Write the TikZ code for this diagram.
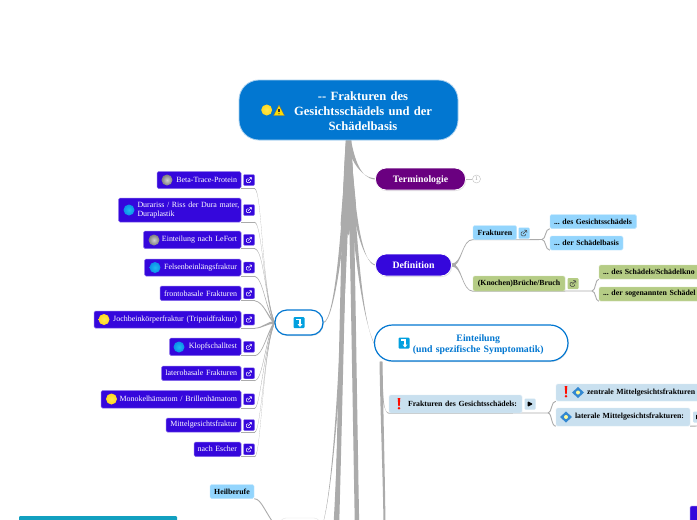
\documentclass[tikz,border=0pt]{standalone}
\usepackage{fontspec}
\setmainfont{Liberation Serif}
\usetikzlibrary{calc,shadows,shapes.geometric,backgrounds}
\definecolor{vio}{HTML}{3507DC}
\definecolor{rootb}{HTML}{0277D1}
\definecolor{lblue}{HTML}{93D5FD}
\definecolor{olive}{HTML}{B5CC85}
\definecolor{pale}{HTML}{C9E0EF}
\definecolor{purp}{HTML}{6A0080}
\definecolor{teal2}{HTML}{12A0C0}
\definecolor{conn}{HTML}{ABABAB}
\definecolor{ballY}{HTML}{FFD820}
\definecolor{ballYi}{HTML}{FFE850}
\definecolor{ballB}{HTML}{0A90E8}
\definecolor{ballBi}{HTML}{20B8F0}
\definecolor{ballG}{HTML}{7E7E7E}
\definecolor{ballGi}{HTML}{D0D0D0}
\frenchspacing
\newcommand\nd[7][]{%
  \pgfmathsetmacro\ndw{#5-#3}\pgfmathsetmacro\ndh{#6-#4}%
  \pgfmathsetmacro\ndt{#5-#3-8}%
  \node[inner xsep=4pt,inner ysep=0pt,minimum width=\ndw pt,minimum height=\ndh pt,text width=\ndt pt,#1] (#2) at ({(#3+#5)/2},{(#4+#6)/2}) {#7};}
% tapered connector: a, a offset, c1, c2, b, b offset
\newcommand\taper[8]{%
  \fill[conn] ($(#1)+(#2,#3)$) .. controls ($(#4)+(#2,#3)$) and ($(#5)+(#7,#8)$) .. ($(#6)+(#7,#8)$)
   -- ($(#6)-(#7,#8)$) .. controls ($(#5)-(#7,#8)$) and ($(#4)-(#2,#3)$) .. ($(#1)-(#2,#3)$) -- cycle;}
\newcommand\lconn[3]{%
  \coordinate (tmp) at (#1.south east -| #1-l.east);
  \draw[thinconn] (#1.south east) -- (tmp);
  \taper{tmp}{0}{0.4}{#2}{#3}{grp.west}{0}{1.3}}
\newcommand\ballic[3]{\shade[inner color=ball#3i,outer color=ball#3] (#1,#2) circle (5.5pt);}
\newcommand\warnic[2]{%
  \fill[yellow!80!orange,draw=black!60,line width=.4pt,line join=round] (#1-5.5,#2+5) -- (#1,#2-5.5) -- (#1+5.5,#2+5) -- cycle;
  \fill[black!80] (#1-.7,#2-2) rectangle (#1+.7,#2+1.8);\fill[black!80] (#1,#2+3.2) circle (.7pt);}
\newcommand\exclic[2]{%
  \fill[red!90!orange] (#1-1.3,#2-6) -- (#1+1.3,#2-6) -- (#1+.7,#2+2) -- (#1-.7,#2+2) -- cycle;
  \fill[red!90!orange] (#1,#2+4.2) circle (1.3pt);}
\newcommand\diaic[2]{%
  \fill[cyan!60!blue!85!white] (#1-6,#2) -- (#1,#2-5.5) -- (#1+6,#2) -- (#1,#2+5.5) -- cycle;
  \fill[white!60!yellow] (#1,#2) circle (2pt);}
\newcommand\arrowic[2]{%
  \fill[rootb!70!cyan,rounded corners=1pt] (#1-5.5,#2-5.5) rectangle (#1+5.5,#2+5.5);
  \draw[white,line width=1.3pt] (#1-3,#2-3) -- (#1+1,#2-3) -- (#1+1,#2+2.5);
  \fill[white] (#1-1.5,#2+1.5) -- (#1+3.5,#2+1.5) -- (#1+1,#2+4.5) -- cycle;}
\tikzset{
  x=1pt,y=-1pt,
  thinconn/.style={conn,line width=.9pt},
  shad/.style={drop shadow={opacity=.25,shadow xshift=.6pt,shadow yshift=-1pt}},
  rootnode/.style={fill=rootb,draw=rootb!35!white,line width=.8pt,rounded corners=20pt,text=white,align=center,
    font=\fontsize{12.6}{15}\selectfont\bfseries},
  mainnode/.style={draw=white,line width=.8pt,rounded corners=10.5pt,text=white,align=center,shad,
    font=\fontsize{9.8}{11}\selectfont\bfseries},
  outlinenode/.style={fill=white,draw=rootb,line width=1.2pt,shad,text=rootb,align=center,
    font=\fontsize{9.8}{11.5}\selectfont\bfseries},
  vionode/.style={fill=vio,draw=vio!60!white,line width=.5pt,rounded corners=1.5pt,text=white,align=right,
    font=\fontsize{7.95}{9.5}\selectfont},
  lightnode/.style={fill=#1,draw=#1!60!white,line width=.4pt,rounded corners=1.5pt,text=black,align=left,
    font=\fontsize{7.8}{9.5}\selectfont\bfseries},
  linkic/.style={rectangle,rounded corners=1pt,minimum size=11pt,inner sep=0pt,fill=#1,draw=#1!55!white,line width=.4pt,
    path picture={
      \draw[white,line width=.55pt] ($(path picture bounding box.center)+(-2.6,-1.2)$) rectangle ($(path picture bounding box.center)+(1.6,2.6)$);
      \fill[#1] ($(path picture bounding box.center)+(-.5,-3.5)$) rectangle ($(path picture bounding box.center)+(3.5,.8)$);
      \draw[white,line width=.55pt] ($(path picture bounding box.center)+(-.8,.8)$) -- ($(path picture bounding box.center)+(2.6,-2.6)$);
      \draw[white,line width=.55pt] ($(path picture bounding box.center)+(.4,-2.6)$) -- ($(path picture bounding box.center)+(2.6,-2.6)$) -- ($(path picture bounding box.center)+(2.6,-.4)$);
    }},
  linkdk/.style={rectangle,rounded corners=1pt,minimum size=11pt,inner sep=0pt,fill=#1,
    path picture={
      \draw[black!75,line width=.5pt] ($(path picture bounding box.center)+(-2.8,-1.2)$) rectangle ($(path picture bounding box.center)+(1.6,2.8)$);
      \fill[#1] ($(path picture bounding box.center)+(-.5,-3.5)$) rectangle ($(path picture bounding box.center)+(3.5,.8)$);
      \draw[black!75,line width=.5pt] ($(path picture bounding box.center)+(-.8,.8)$) -- ($(path picture bounding box.center)+(2.8,-2.8)$);
      \draw[black!75,line width=.5pt] ($(path picture bounding box.center)+(.2,-2.8)$) -- ($(path picture bounding box.center)+(2.8,-2.8)$) -- ($(path picture bounding box.center)+(2.8,-.2)$);
    }},
  playic/.style={rectangle,rounded corners=1pt,minimum size=11pt,inner sep=0pt,fill=pale,
    path picture={\fill[black] ($(path picture bounding box.center)+(-2.5,-2.8)$) -- ($(path picture bounding box.center)+(3,0)$) -- ($(path picture bounding box.center)+(-2.5,2.8)$) -- cycle;}},
}
\begin{document}
\begin{tikzpicture}
\useasboundingbox (0,0) rectangle (697,520);
\begin{scope}
\clip (0,0) rectangle (697,520);

% ---- root
\nd[rootnode]{root}{239}{80}{458}{140}{\rule{0pt}{11pt}\hspace*{29pt}-{}- Frakturen des\\\hspace*{29pt}Gesichtsschädels und der\\\hspace*{29pt}Schädelbasis}
\ballic{266.7}{110}{Y}
\warnic{279}{110.5}

% ---- main nodes
\nd[mainnode,fill=purp]{term}{375.5}{168}{465.5}{190}{\rule{0pt}{9pt}Terminologie}
\nd[mainnode,fill=vio]{defin}{375.5}{254}{451.5}{276}{Definition}
\node[circle,draw=black!25,line width=.4pt,inner sep=0pt,minimum size=8pt,text=black!40,font=\fontsize{5.5}{6}\selectfont] (termn) at (476.5,179) {1};

\nd[outlinenode,rounded corners=18pt]{eint}{374.5}{325}{568}{361}{\rule{0pt}{10pt}\hspace*{14pt}Einteilung\\\hspace*{14pt}(und spezifische Symptomatik)}
\arrowic{404}{343}
\nd[outlinenode,rounded corners=12pt]{grp}{275}{310}{323}{335}{}
\arrowic{299}{322.5}
\nd[draw=black!10,line width=.4pt,fill=white,rounded corners=6pt]{bnode}{280}{518}{320}{545}{}
\nd[fill=teal2,rounded corners=1pt]{tealn}{19}{516}{177}{545}{}
\nd[vionode]{rvio}{690}{506}{720}{535}{}

% ---- left nodes
\foreach \nm/\xa/\ya/\yb/\txt in {
 beta/157/171.5/188.5/{Beta-Trace-Protein},
 lefort/143.5/231/248.5/{Einteilung nach LeFort},
 fels/144.5/259/276/{Felsenbeinlängsfraktur},
 front/160/286/300.5/{frontobasale Frakturen},
 joch/94/311/328/{Jochbeinkörperfraktur (Tripoidfraktur)},
 klopf/169.5/338/355.5/{Klopfschalltest},
 later/161.5/366/380.5/{laterobasale Frakturen},
 mono/101/390.5/408/{Monokelhämatom / Brillenhämatom},
 mittel/166/418/432/{Mittelgesichtsfraktur},
 escher/194/442/456.5/{nach Escher}}{
  \nd[vionode]{\nm}{\xa}{\ya}{241}{\yb}{\llap{\txt}}
  \node[linkic=vio] (\nm-l) at (249,{(\ya+\yb)/2}) {};
}
\nd[vionode,align=left]{dura}{118.5}{198}{241}{222}{\hspace*{15pt}\mbox{Durariss / Riss der Dura mater,}\\\hspace*{15pt}Duraplastik}
\node[linkic=vio] (dura-l) at (249,210) {};

\ballic{167}{180}{G}
\ballic{129}{210}{B}
\ballic{154}{240}{G}
\ballic{155}{267.5}{B}
\ballic{104}{319.5}{Y}
\ballic{179}{347}{B}
\ballic{111.5}{399}{Y}

\nd[lightnode=lblue,align=center]{heil}{210}{484.5}{254}{498.5}{Heilberufe}

% ---- Definition children
\nd[lightnode=lblue,align=center]{frak}{473}{225.5}{516.7}{239.5}{Frakturen}
\node[linkdk=lblue] (frak-l) at (524,233) {};
\nd[lightnode=lblue]{fg}{550}{214.5}{636.5}{228.5}{\mbox{... des Gesichtsschädels}}
\nd[lightnode=lblue]{fs}{550}{236}{623}{250}{\mbox{... der Schädelbasis}}
\nd[lightnode=olive,align=center]{kn}{473}{276}{565}{291}{(Knochen)Brüche/Bruch}
\node[linkdk=olive] (kn-l) at (573,283.5) {};
\nd[lightnode=olive]{ks}{599}{265}{720}{279}{\mbox{... des Schädels/Schädelkno}}
\nd[lightnode=olive]{kb}{599}{287}{720}{301}{\mbox{... der sogenannten Schädel}}

% ---- Einteilung children
\nd[lightnode=pale]{fg2}{389}{395}{522}{413}{\hspace*{15pt}Frakturen des Gesichtsschädels:}
\node[playic] (fg2-l) at (530,404) {};
\exclic{399}{404}
\nd[lightnode=pale]{zm}{556}{384}{720}{401}{\hspace*{27pt}zentrale Mittelgesichtsfrakturen}
\exclic{566}{392}
\diaic{578}{392.5}
\nd[lightnode=pale]{lm}{556}{408}{690}{426}{\hspace*{15pt}laterale Mittelgesichtsfrakturen:}
\diaic{566}{417}
\node[playic,anchor=west] (lm-l) at (693,417) {};
\end{scope}

\begin{pgfonlayer}{background}
\clip (0,0) rectangle (697,520);
\fill[white] (0,0) rectangle (697,520);
\path
 coordinate (trunkA) at (337,525)
 coordinate (trunkE) at (334.5,525)
 coordinate (trunkB) at (357,525)
 coordinate (subend) at (384.5,525)
 coordinate (rtop) at (root.south -| 348.5,0);

% solid part of the bundle just under the root
\fill[conn] ($(rtop)+(-2.5,0)$) .. controls ($(rtop)+(-3,30)$) and ($(rtop)+(-6,55)$) .. ($(rtop)+(-8,85)$)
  -- ($(rtop)+(0,95)$) -- ($(rtop)+(7.5,65)$) .. controls ($(rtop)+(6,45)$) and ($(rtop)+(3,25)$) .. ($(rtop)+(2.5,0)$) -- cycle;

\taper{rtop}{2.5}{0}{352,158}{360,178}{term.west}{0}{0.5}
\taper{rtop}{2.5}{0}{352,215}{362,262}{defin.west}{0}{0.5}
\taper{rtop}{2.5}{0}{354,240}{362,318}{eint.west}{0}{0.5}
\taper{rtop}{2.5}{0}{345,225}{335,320}{grp.east}{0}{0.5}
\taper{rtop}{2.5}{0}{344,190}{343,300}{trunkA}{2.2}{0}
\taper{rtop}{2.5}{0}{344,190}{343,380}{trunkE}{1}{0}
\taper{rtop}{2.5}{0}{352,190}{353,300}{trunkB}{2.2}{0}
\taper{rtop}{2}{0}{345,300}{335,500}{bnode.east}{0}{0.4}
\draw[black!25,line width=.6pt] (term.east) -- (termn.west);

\lconn{beta}{262,190}{262,290}
\lconn{dura}{262,224}{264,295}
\lconn{lefort}{264,250}{265,300}
\lconn{fels}{263,278}{266,310}
\lconn{front}{264,302}{268,318}
\lconn{joch}{263,328}{268,322}
\lconn{klopf}{263,355}{266,335}
\lconn{later}{263,380}{265,340}
\lconn{mono}{260,408}{264,350}
\lconn{mittel}{261,432}{264,350}
\lconn{escher}{261,456.5}{263,350}

\draw[thinconn] (heil.south east) .. controls (262,499) and (264,512) .. (bnode.west);

\taper{defin.east}{0}{1.5}{462,265}{462,239}{frak.south west}{0}{.4}
\taper{defin.east}{0}{1.5}{462,265}{462,291}{kn.south west}{0}{.4}
\draw[thinconn] (frak.south west) -- (frak.south west -| frak-l.east) -- (542,239.5) coordinate (fj) .. controls (546,239.5) and (545,228.5) .. (fg.south west);
\draw[thinconn] (fj) .. controls (546,239.5) and (545,250) .. (fs.south west);
\draw[thinconn] (kn.south west) -- (592,291) coordinate (kj) .. controls (596,291) and (595,279) .. (ks.south west);
\draw[thinconn] (kj) .. controls (596,291) and (595,301) .. (kb.south west);

\coordinate (sub) at (eint.south -| 381,0);
\taper{sub}{1.5}{0}{382,420}{384,480}{subend}{1}{0}
\taper{sub}{.8}{0}{382,400}{384,413}{fg2.south west}{0}{.4}
\draw[thinconn] (fg2.south west) -- (548,413) coordinate (gj) .. controls (552,413) and (551,401) .. (zm.south west);
\draw[thinconn] (gj) .. controls (552,413) and (551,426) .. (lm.south west);
\draw[thinconn] (lm.south east) -- (697,426);
\end{pgfonlayer}
\end{tikzpicture}
\end{document}
